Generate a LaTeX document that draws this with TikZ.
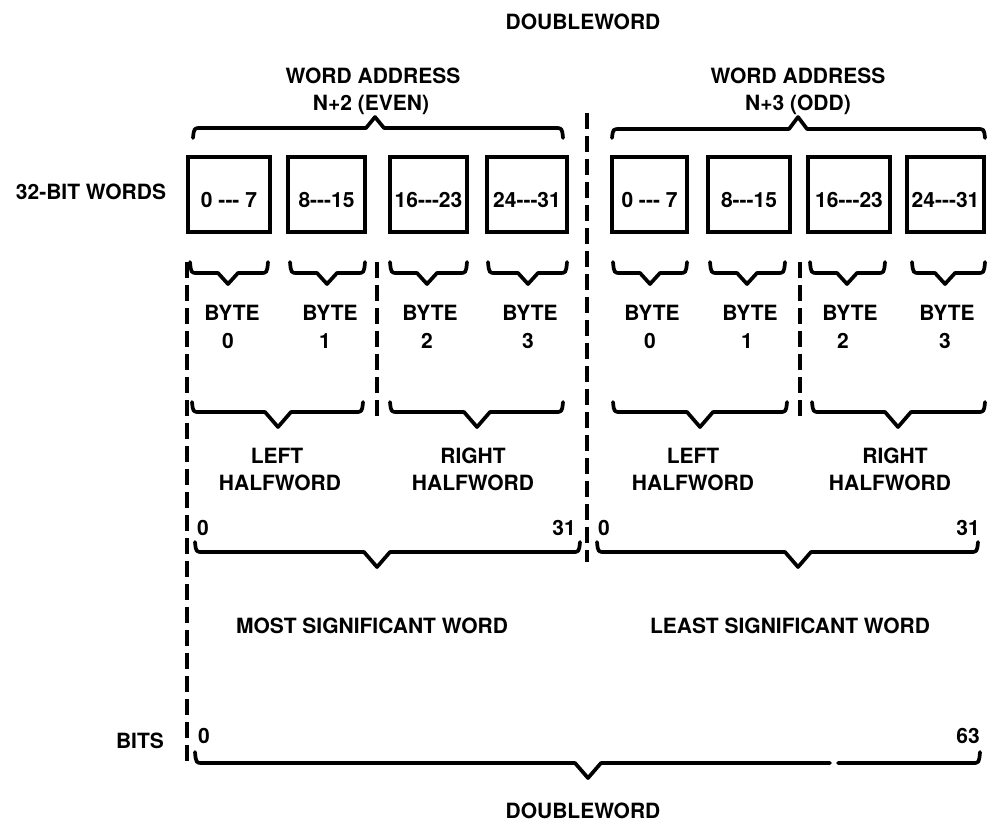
\documentclass[tikz,border=0pt]{standalone}
\usepackage{fontspec}
\setmainfont{TeX Gyre Heros}
\tikzset{
  brc/.style={line width=3.7pt, line join=round, line cap=round},
  dline/.style={line width=3.6pt, dash pattern=on 16pt off 7pt},
  lbl/.style={inner sep=0pt, font=\fontsize{21}{25}\selectfont\bfseries, anchor=base},
  lblw/.style={lbl, anchor=base west},
  lble/.style={lbl, anchor=base east}
}
\newcommand\brcpath[7]{%
  \draw[brc] (#1,#3) .. controls (#1+1,#4) .. (#1+8,#4) -- (#5-#7,#4) -- (#5,#6) -- (#5+#7,#4) -- (#2-8,#4) .. controls (#2-1,#4) .. (#2,#3);}
\begin{document}
\begin{tikzpicture}[x=1pt,y=-1pt]
\useasboundingbox[fill=white] (0,0) rectangle (987,823);

% titles
\node[lbl] (dwtop) at (583,29) {DOUBLEWORD};
\node[lbl] (dwbot) at (583,818) {DOUBLEWORD};
\node[lbl] (wa1) at (373,83) {WORD ADDRESS};
\node[lbl] (wa1b) at (371,110) {N+2 (EVEN)};
\node[lbl] (wa2) at (798,83) {WORD ADDRESS};
\node[lbl] (wa2b) at (798,110) {N+3 (ODD)};
\node[lbl] (bw) at (91,199) {32-BIT WORDS};
\node[lbl] (bits) at (140,748) {BITS};

% top braces
\brcpath{193}{563}{138}{128}{375}{117}{9}
\brcpath{612}{985}{138}{129}{798}{117}{9}

% boxes
\foreach \n/\a/\b/\t in {b1/188/270/{0 -{}-{}- 7}, b2/288/365/{8-{}-{}-15}, b3/390/467/{16-{}-{}-23}, b4/487/567/{24-{}-{}-31},
  b5/612/687/{0 -{}-{}- 7}, b6/708/790/{8-{}-{}-15}, b7/808/890/{16-{}-{}-23}, b8/907/984/{24-{}-{}-31}}{
  \draw[line width=4.3pt] (\a,157) rectangle (\b,232);
  \node[lbl] (\n) at ({(\a+\b)/2},207) {\t};
}

% dashed lines
\coordinate (c1) at (587,113); \coordinate (c2) at (587,562);
\coordinate (l1) at (187,262); \coordinate (l2) at (187,766);
\coordinate (m1) at (377,262); \coordinate (m2) at (377,423);
\coordinate (n1) at (800,262); \coordinate (n2) at (800,423);
\draw[dline] (c1) -- (c2);
\draw[dline] (l1) -- (l2);
\draw[dline] (m1) -- (m2);
\draw[dline] (n1) -- (n2);

% byte braces
\brcpath{190}{268}{262}{273}{228}{284}{10}
\brcpath{290}{365}{262}{273}{327}{284}{10}
\brcpath{390}{467}{262}{273}{427}{284}{10}
\brcpath{488}{567}{262}{273}{528}{284}{10}
\brcpath{613}{687}{262}{273}{650}{284}{10}
\brcpath{710}{785}{262}{273}{747}{284}{10}
\brcpath{810}{885}{262}{273}{847}{284}{10}
\brcpath{912}{985}{262}{273}{945}{284}{10}

% byte labels
\node[lbl] (by0) at (232,320) {BYTE}; \node[lbl] (by0n) at (228,348) {0};
\node[lbl] (by1) at (330,320) {BYTE}; \node[lbl] (by1n) at (325,348) {1};
\node[lbl] (by2) at (430,320) {BYTE}; \node[lbl] (by2n) at (427,348) {2};
\node[lbl] (by3) at (530,320) {BYTE}; \node[lbl] (by3n) at (528,348) {3};
\node[lbl] (by4) at (652,320) {BYTE}; \node[lbl] (by4n) at (650,348) {0};
\node[lbl] (by5) at (750,320) {BYTE}; \node[lbl] (by5n) at (747,348) {1};
\node[lbl] (by6) at (850,320) {BYTE}; \node[lbl] (by6n) at (843,348) {2};
\node[lbl] (by7) at (947,320) {BYTE}; \node[lbl] (by7n) at (945,348) {3};

% halfword braces
\brcpath{192}{363}{402}{412}{278}{427}{13}
\brcpath{390}{563}{402}{412}{477}{427}{13}
\brcpath{613}{787}{402}{412}{700}{427}{13}
\brcpath{812}{985}{402}{412}{898}{427}{13}

\node[lbl] (hw1) at (277,463) {LEFT};  \node[lbl] (hw1b) at (280,490) {HALFWORD};
\node[lbl] (hw2) at (473,463) {RIGHT}; \node[lbl] (hw2b) at (473,490) {HALFWORD};
\node[lbl] (hw3) at (693,463) {LEFT};  \node[lbl] (hw3b) at (693,490) {HALFWORD};
\node[lbl] (hw4) at (895,463) {RIGHT}; \node[lbl] (hw4b) at (890,490) {HALFWORD};

% word bit numbers and braces
\node[lblw] (w1s) at (197,535) {0};
\node[lble] (w1e) at (576,535) {31};
\node[lblw] (w2s) at (598,535) {0};
\node[lble] (w2e) at (980,535) {31};
\brcpath{195}{580}{542}{552}{377}{567}{13}
\brcpath{597}{978}{542}{552}{798}{567}{13}

\node[lbl] (msw) at (372,633) {MOST SIGNIFICANT WORD};
\node[lbl] (lsw) at (790,633) {LEAST SIGNIFICANT WORD};

% doubleword bits
\node[lblw] (d0) at (198,743) {0};
\node[lble] (d63) at (980,743) {63};
\draw[brc] (195,752) .. controls (196,763) .. (203,763) -- (575,763) -- (588,778) -- (601,763) -- (830,763);
\draw[brc] (838,763) -- (972,763) .. controls (979,763) .. (980,752);
\end{tikzpicture}
\end{document}
